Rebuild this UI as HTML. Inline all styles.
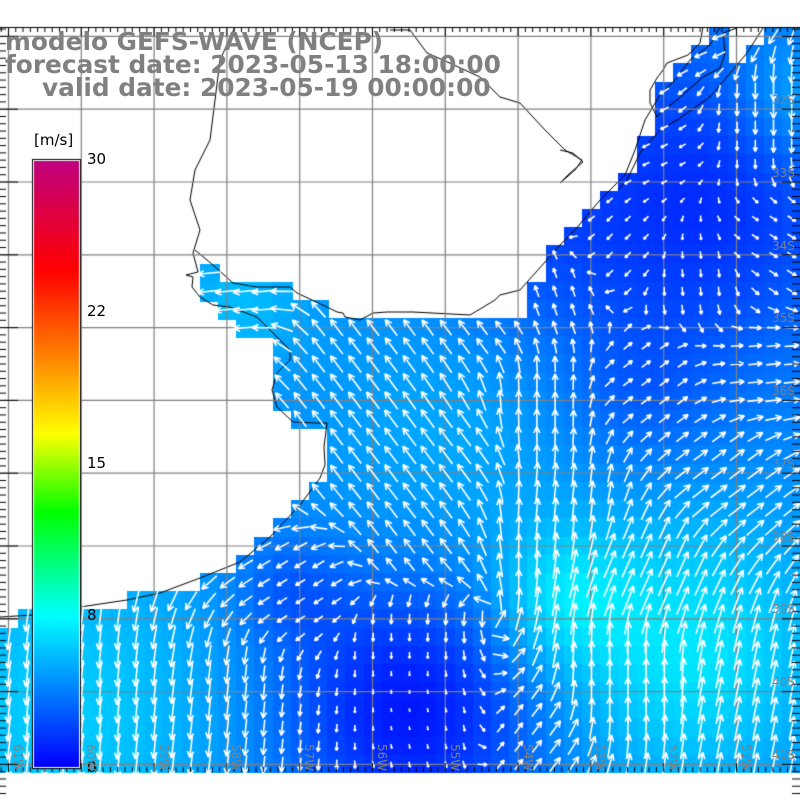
<!DOCTYPE html>
<html><head><meta charset="utf-8"><style>
html,body{margin:0;padding:0;background:#fff;}
#wrap{position:relative;width:800px;height:800px;overflow:hidden;}
canvas{position:absolute;left:0;top:0;}
.t{position:absolute;font-family:"DejaVu Sans","Liberation Sans",sans-serif;font-weight:bold;color:#808080;font-size:24.8px;white-space:nowrap;line-height:1;}
.l{position:absolute;font-family:"DejaVu Sans","Liberation Sans",sans-serif;font-size:15px;color:#000;white-space:nowrap;line-height:1;}
.g{position:absolute;font-family:"DejaVu Sans","Liberation Sans",sans-serif;font-size:12px;color:#808080;white-space:nowrap;line-height:1;}
.r{transform:rotate(90deg);transform-origin:left top;}
</style></head><body><div id="wrap">
<canvas id="c" width="800" height="800"></canvas>
<div class="t" style="left:5px;top:30px;">modelo GEFS-WAVE (NCEP)</div>
<div class="t" style="left:5px;top:53px;">forecast date: 2023-05-13 18:00:00</div>
<div class="t" style="left:42px;top:76px;">valid date: 2023-05-19 00:00:00</div>
<div class="l" style="left:34px;top:133px;">[m/s]</div>
<div class="l" style="left:87px;top:152px;">30</div>
<div class="l" style="left:87px;top:304px;">22</div>
<div class="l" style="left:87px;top:456px;">15</div>
<div class="l" style="left:87px;top:608px;">8</div>
<div class="l" style="left:87px;top:760px;">0</div>
<div class="g" style="left:772px;top:94px;">32S</div>
<div class="g" style="left:772px;top:167px;">33S</div>
<div class="g" style="left:772px;top:240px;">34S</div>
<div class="g" style="left:772px;top:312px;">35S</div>
<div class="g" style="left:772px;top:385px;">36S</div>
<div class="g" style="left:772px;top:458px;">37S</div>
<div class="g" style="left:772px;top:531px;">38S</div>
<div class="g" style="left:772px;top:603px;">39S</div>
<div class="g" style="left:772px;top:676px;">40S</div>
<div class="g" style="left:772px;top:749px;">41S</div>
<div class="g r" style="left:24px;top:744px;">61W</div>
<div class="g r" style="left:97px;top:744px;">60W</div>
<div class="g r" style="left:170px;top:744px;">59W</div>
<div class="g r" style="left:242px;top:744px;">58W</div>
<div class="g r" style="left:315px;top:744px;">57W</div>
<div class="g r" style="left:388px;top:744px;">56W</div>
<div class="g r" style="left:461px;top:744px;">55W</div>
<div class="g r" style="left:534px;top:744px;">54W</div>
<div class="g r" style="left:606px;top:744px;">53W</div>
<div class="g r" style="left:679px;top:744px;">52W</div>
<div class="g r" style="left:752px;top:744px;">51W</div>
</div>
<script>
(function(){
var cv=document.getElementById('c'),x=cv.getContext('2d');
function topY(X){
 if(X<18)return 625;if(X<128)return 609;if(X<200)return 591;if(X<237)return 573;if(X<255)return 555;
 if(X<273)return 537;if(X<292)return 519;if(X<310)return 501;if(X<328)return 483;if(X<520)return 318;
 if(X<545)return 282;if(X<565)return 246;if(X<582)return 228;if(X<600)return 210;if(X<618)return 192;
 if(X<638)return 172;if(X<657)return 135;if(X<675)return 82;if(X<693)return 63;if(X<710)return 45;
 if(X<727)return 27;if(X<745)return 63;if(X<763)return 45;return 27;}
function inb(X,Y,a,b,c2,d){return X>=a&&X<=b&&Y>=c2&&Y<=d;}
function ocean(X,Y){
 if(Y>topY(X))return true;
 if(inb(X,Y,291,328,300,427))return true;
 if(inb(X,Y,273,291,318,409))return true;
 if(inb(X,Y,200,218,264,300))return true;
 if(inb(X,Y,200,291,283,300))return true;
 if(inb(X,Y,218,328,300,318))return true;
 if(inb(X,Y,240,291,318,330))return true;
 return false;}
function G(X,Y,a,cx,cy,s){var d=((X-cx)*(X-cx)+(Y-cy)*(Y-cy))/(2*s*s);return a*Math.exp(-d);}
function spd(X,Y){
 var s=4.2+G(X,Y,-2.8,700,200,110)+G(X,Y,-1.2,640,400,60)+G(X,Y,-3.6,410,710,90)+G(X,Y,2.2,60,710,130)
 +G(X,Y,3,690,650,100)+G(X,Y,2.2,560,600,50)+G(X,Y,1.6,240,300,50)+G(X,Y,-1.4,290,590,40)+G(X,Y,-1.2,520,250,70)
 +G(X,Y,1.1,450,440,110)+G(X,Y,1.8,795,100,45);
 return Math.max(0.3,Math.min(7.9,s));}
var A=[[350,350,-0.6,-0.8],[450,450,-0.6,-0.8],[400,530,-0.6,-0.8],[330,450,-0.6,-0.8],[540,400,0,-1],[560,500,0.1,-1],
[650,380,0.8,-0.6],[760,370,1,-0.1],[720,470,0.8,-0.6],[650,560,0.4,-0.9],[620,680,0,-1],[760,700,0.2,-1],[520,740,0.6,-0.8],
[100,700,-0.1,1],[250,700,-0.1,1],[400,650,0,1],[450,730,0.2,1],[300,590,-0.8,0.5],[230,290,-1,0.1],[650,150,-0.8,0.4],[620,250,-0.7,0.7],
[700,280,0.1,1],[760,120,0,1],[770,250,0.8,0.5],[560,290,-0.3,-0.9],[480,320,-0.6,-0.8],[700,30,-0.5,0.2]];
function dir(X,Y){var sx=0,sy=0;for(var i=0;i<A.length;i++){var a=A[i];var d=(X-a[0])*(X-a[0])+(Y-a[1])*(Y-a[1])+100;var w=1/(d*d);sx+=w*a[2];sy+=w*a[3];}
 var n=Math.hypot(sx,sy)||1;return[sx/n,sy/n];}
x.fillStyle='#fff';x.fillRect(0,0,800,800);
var cs=18.2,oy=27.4,cells=[];
for(var j=0;j<41;j++)for(var i=0;i<44;i++){var X=(i+0.5)*cs,Y=oy+(j+0.5)*cs;if(Y>772)continue;
 if(ocean(X,Y)){var s=spd(X,Y);x.fillStyle='rgb(0,'+Math.round(255*s/8)+',255)';
 var y0=oy+j*cs,y1=Math.min(772,y0+cs);x.fillRect(Math.floor(i*cs),Math.floor(y0),Math.ceil(cs)+1,Math.ceil(y1-y0)+1);cells.push([X,Y,s]);}}
x.strokeStyle='#000';x.lineWidth=1;
function pl(p){x.beginPath();x.moveTo(p[0],p[1]);for(var k=2;k<p.length;k+=2)x.lineTo(p[k],p[k+1]);x.stroke();}
pl([0,617,33,615,80,607,127,600,160,593,200,578,240,562,270,537,300,505,320,478,325,465,324,447,327,423,317,423,293,422,277,407,272,390,277,373,290,360,290,350,277,337,257,317,230,307,213,305,200,297,192,287,193,277,186,275,198,272,193,253,200,230,190,200,195,170,210,140,215,100,220,60,235,27]);
pl([195,250,213,265,233,283,257,287,290,287,297,293,327,307,337,312,343,313,345,317,360,320,373,313,387,312,413,312,470,315,495,300,500,295,520,290,545,262,560,245,575,230,600,200,625,175,635,150,645,120,660,95,675,80,690,60,710,45,720,27]);
pl([618,190,627,180,640,153,660,130,677,120,710,97,747,53,763,28]);
pl([703,27,700,43,688,55,667,63,663,70,657,78,650,90,650,103,657,117,663,110,677,100,703,77,720,68,725,53,723,33,737,28]);
pl([390,30,410,30,427,53,443,60,480,77,500,97,510,100,520,103,545,130,565,150,582,160,575,170,560,183]);
pl([560,150,573,153,583,162,570,173,560,183]);
x.strokeStyle='#808080';x.lineWidth=1.2;
for(var k=0;k<11;k++){var gx=8.5+72.8*k;x.beginPath();x.moveTo(gx,27);x.lineTo(gx,772);x.stroke();
 var gy=36.4+72.8*k;x.beginPath();x.moveTo(0,gy);x.lineTo(800,gy);x.stroke();}
x.strokeStyle='#fff';x.lineWidth=1.6;
cells.forEach(function(c0){var d=dir(c0[0],c0[1]),L=Math.max(2,c0[2]*4.3),h=L/2;
 var tx=c0[0]+d[0]*h,ty=c0[1]+d[1]*h,bx=c0[0]-d[0]*h,by=c0[1]-d[1]*h;
 x.beginPath();x.moveTo(bx,by);x.lineTo(tx,ty);
 var hl=Math.min(7,L*0.4);
 for(var sg=-1;sg<=1;sg+=2){var an=Math.atan2(d[1],d[0])+Math.PI+sg*0.45;x.moveTo(tx,ty);x.lineTo(tx+Math.cos(an)*hl,ty+Math.sin(an)*hl);}
 x.stroke();});
x.strokeStyle='#000';x.lineWidth=1;
x.beginPath();x.moveTo(0,27.5);x.lineTo(800,27.5);x.stroke();
for(var k=-1;k<110;k++){var p=8.5+7.28*k;var mj=(k%10===0);
 x.beginPath();x.moveTo(p,27);x.lineTo(p,mj?36:32);x.stroke();
 x.beginPath();x.moveTo(p,772);x.lineTo(p,mj?763:767);x.stroke();
 var q=36.4+7.28*k;
 x.beginPath();x.moveTo(0,q);x.lineTo(mj?18:6,q);x.stroke();
 x.beginPath();x.moveTo(800,q);x.lineTo(mj?782:792,q);x.stroke();}
var g=x.createLinearGradient(0,767,0,161);
g.addColorStop(0,'#0000ff');g.addColorStop(0.25,'#00ffff');g.addColorStop(0.42,'#00ff00');g.addColorStop(0.55,'#ffff00');
g.addColorStop(0.68,'#ff8000');g.addColorStop(0.82,'#ff0000');g.addColorStop(1,'#c0007f');
x.fillStyle='#000';x.fillRect(32,159,49,610);x.fillStyle='#fff';x.fillRect(33,160,47,608);
x.fillStyle=g;x.fillRect(34,161,45,606);
})();
</script></body></html>
